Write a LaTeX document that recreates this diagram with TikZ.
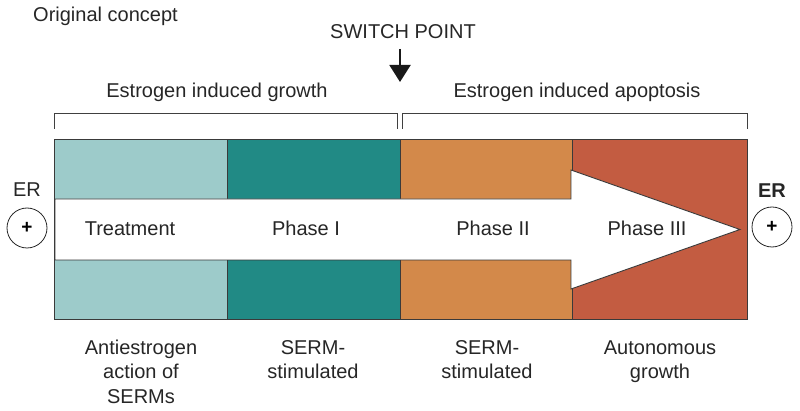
\documentclass[tikz,border=0pt]{standalone}
\usepackage{fontspec}
\setmainfont{Liberation Sans}
\usetikzlibrary{arrows.meta}
\definecolor{lteal}{HTML}{9DCBCA}
\definecolor{dteal}{HTML}{218A85}
\definecolor{orng}{HTML}{D3894A}
\definecolor{rbrown}{HTML}{C35C41}
\definecolor{edge}{HTML}{3A3A3A}
\begin{document}
\begin{tikzpicture}[x=1pt,y=-1pt,
  txt/.style={font=\fontsize{20}{24}\selectfont, text=black!85, inner sep=0pt, anchor=base},
  blk/.style={draw=edge, line width=0.9pt, minimum height=180pt, inner sep=0pt, anchor=north west},
  erc/.style={draw=black!85, line width=0.8pt, circle, minimum size=40pt, inner sep=0pt, font=\fontsize{19}{22}\selectfont\bfseries},
  brk/.style={draw=black!75, line width=0.8pt}]
\useasboundingbox (0,0) rectangle (800,411);
% blocks
\node[blk, fill=lteal, minimum width=173pt] (b1) at (54,139.5) {};
\node[blk, fill=dteal, minimum width=173pt] (b2) at (227,139.5) {};
\node[blk, fill=orng, minimum width=173pt] (b3) at (400,139.5) {};
\node[blk, fill=rbrown, minimum width=175pt] (b4) at (572,139.5) {};
% big arrow
\draw[draw=edge, line width=0.9pt, fill=white] (55,199) -- (571,199) -- (571,170) -- (740,229.5) -- (571,289) -- (571,260) -- (55,260) -- cycle;
% phase labels
\node[txt] (t1) at (130,236) {Treatment};
\node[txt] (t2) at (306,236) {Phase I};
\node[txt] (t3) at (493,236) {Phase II};
\node[txt] (t4) at (647,236) {Phase III};
% ER symbols
\node[txt] (erl) at (27,197) {ER};
\node[erc] (cl) at (27,228) {+};
\node[txt, font=\fontsize{20}{24}\selectfont\bfseries] (err) at (772,198) {ER};
\node[erc] (cr) at (772,227) {+};
% top labels
\node[txt, anchor=base west] (oc) at (33,22) {Original concept};
\node[txt] (sp) at (403,39) {SWITCH POINT};
\coordinate (sa) at (400,49);
\coordinate (sb) at (400,82);
\draw[line width=2pt, black!90, -{Triangle[width=21pt,length=17pt]}] (sa) -- (sb);
\node[txt] (eg) at (217,98) {Estrogen induced growth};
\node[txt] (ea) at (577,98) {Estrogen induced apoptosis};
% brackets
\draw[brk] (54,129) -- (54,113.5) -- (397.5,113.5) -- (397.5,129);
\draw[brk] (402.5,129) -- (402.5,113.5) -- (747,113.5) -- (747,129);
% bottom labels
\node[txt] (l1) at (141,355) {\begin{tabular}[t]{@{}c@{}}Antiestrogen\\action of\\SERMs\end{tabular}};
\node[txt] (l2) at (313,355) {\begin{tabular}[t]{@{}c@{}}SERM-\\stimulated\end{tabular}};
\node[txt] (l3) at (487,355) {\begin{tabular}[t]{@{}c@{}}SERM-\\stimulated\end{tabular}};
\node[txt] (l4) at (660,355) {\begin{tabular}[t]{@{}c@{}}Autonomous\\growth\end{tabular}};
\end{tikzpicture}
\end{document}
